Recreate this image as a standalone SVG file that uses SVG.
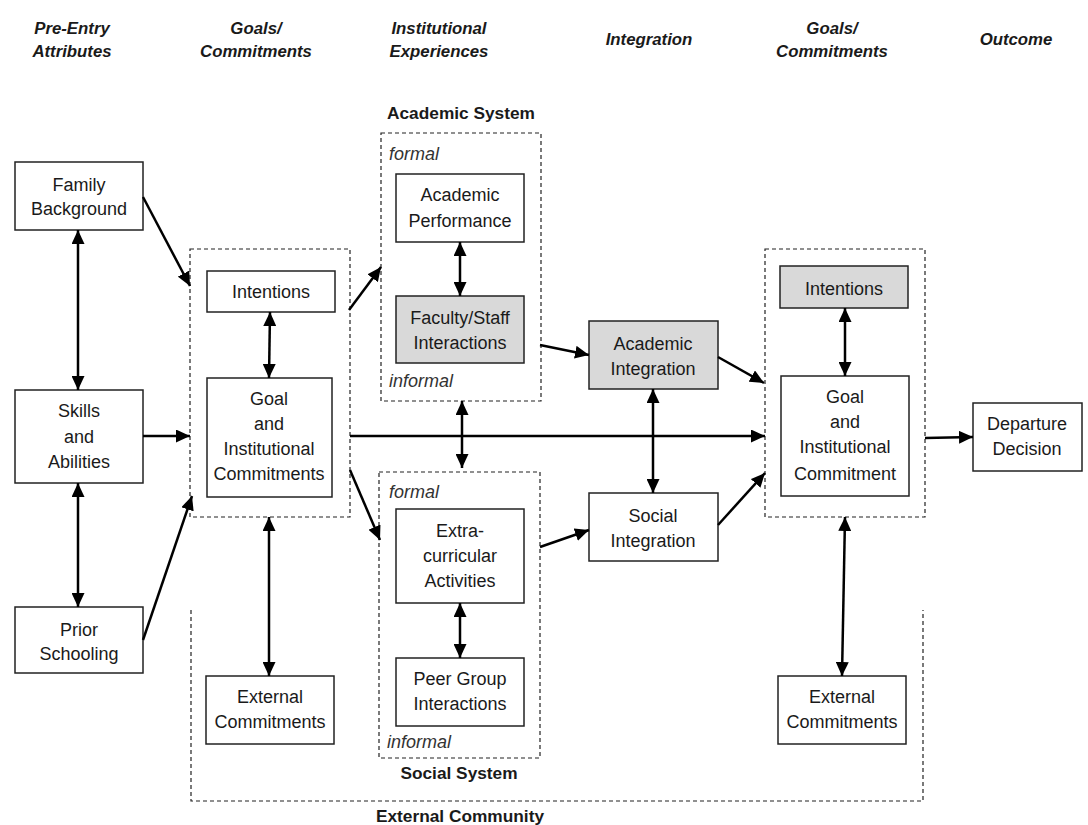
<svg xmlns="http://www.w3.org/2000/svg" width="1088" height="825" viewBox="0 0 1088 825">
<style>
text{font-family:"Liberation Sans",Arial,sans-serif;fill:#1a1a1a}
.h{font-size:16.8px;font-weight:bold;font-style:italic;text-anchor:middle}
.t{font-size:18px;text-anchor:middle}
.i{font-size:18px;font-style:italic;fill:#333}
.b{font-size:17.3px;font-weight:bold;text-anchor:middle}
.box{fill:#fff;stroke:#222;stroke-width:1.5}
.g{fill:#d9d9d9}
.d{fill:none;stroke:#222;stroke-width:1.2;stroke-dasharray:4 3}
.c line,.c path{stroke:#000;stroke-width:2.5;fill:none}
.e{marker-end:url(#ah)}
.s{marker-start:url(#ah);marker-end:url(#ah)}
</style>
<defs>
<marker id="ah" markerUnits="userSpaceOnUse" markerWidth="14" markerHeight="13" refX="14" refY="6.5" orient="auto-start-reverse">
<path d="M0,0 L14,6.5 L0,13 z" fill="#000"/>
</marker>
</defs>
<rect width="1088" height="825" fill="#fff"/>
<g id="headers">
<text class="h" x="72" y="34">Pre-Entry</text>
<text class="h" x="72" y="57">Attributes</text>
<text class="h" x="256" y="34">Goals/</text>
<text class="h" x="256" y="57">Commitments</text>
<text class="h" x="439" y="34">Institutional</text>
<text class="h" x="439" y="57">Experiences</text>
<text class="h" x="649" y="45">Integration</text>
<text class="h" x="832" y="34">Goals/</text>
<text class="h" x="832" y="57">Commitments</text>
<text class="h" x="1016" y="45">Outcome</text>
</g>
<g id="external-community">
<path class="d" d="M191,610 V801 H923 V610"/>
<text class="b" x="460" y="822">External Community</text>
</g>
<g id="goals-left">
<rect class="d" x="190" y="249" width="160" height="268"/>
</g>
<g id="academic-system">
<rect class="d" x="381" y="133" width="160" height="268"/>
<text class="b" x="461" y="119">Academic System</text>
<text class="i" x="389" y="160">formal</text>
<text class="i" x="389" y="387">informal</text>
</g>
<g id="social-system">
<rect class="d" x="379" y="472" width="161" height="286"/>
<text class="b" x="459" y="779">Social System</text>
<text class="i" x="389" y="498">formal</text>
<text class="i" x="387" y="748">informal</text>
</g>
<g id="goals-right">
<rect class="d" x="765" y="249" width="160" height="268"/>
</g>
<g id="family-background">
<rect class="box" x="15" y="162" width="128" height="68"/>
<text class="t" x="79" y="191">Family</text>
<text class="t" x="79" y="215">Background</text>
</g>
<g id="skills-abilities">
<rect class="box" x="15" y="390" width="128" height="93"/>
<text class="t" x="79" y="417">Skills</text>
<text class="t" x="79" y="443">and</text>
<text class="t" x="79" y="468">Abilities</text>
</g>
<g id="prior-schooling">
<rect class="box" x="15" y="607" width="128" height="66"/>
<text class="t" x="79" y="636">Prior</text>
<text class="t" x="79" y="660">Schooling</text>
</g>
<g id="intentions-left">
<rect class="box" x="207" y="271" width="128" height="41"/>
<text class="t" x="271" y="298">Intentions</text>
</g>
<g id="goal-commitments-left">
<rect class="box" x="207" y="378" width="125" height="119"/>
<text class="t" x="269" y="405">Goal</text>
<text class="t" x="269" y="430">and</text>
<text class="t" x="269" y="455">Institutional</text>
<text class="t" x="269" y="480">Commitments</text>
</g>
<g id="external-commitments-left">
<rect class="box" x="206" y="676" width="128" height="68"/>
<text class="t" x="270" y="703">External</text>
<text class="t" x="270" y="728">Commitments</text>
</g>
<g id="academic-performance">
<rect class="box" x="396" y="174" width="128" height="68"/>
<text class="t" x="460" y="201">Academic</text>
<text class="t" x="460" y="227">Performance</text>
</g>
<g id="faculty-staff">
<rect class="box g" x="396" y="296" width="128" height="67"/>
<text class="t" x="460" y="324">Faculty/Staff</text>
<text class="t" x="460" y="349">Interactions</text>
</g>
<g id="extracurricular">
<rect class="box" x="396" y="509" width="128" height="94"/>
<text class="t" x="460" y="537">Extra-</text>
<text class="t" x="460" y="562">curricular</text>
<text class="t" x="460" y="587">Activities</text>
</g>
<g id="peer-group">
<rect class="box" x="396" y="658" width="128" height="68"/>
<text class="t" x="460" y="685">Peer Group</text>
<text class="t" x="460" y="710">Interactions</text>
</g>
<g id="academic-integration">
<rect class="box g" x="589" y="321" width="129" height="68"/>
<text class="t" x="653" y="350">Academic</text>
<text class="t" x="653" y="375">Integration</text>
</g>
<g id="social-integration">
<rect class="box" x="589" y="493" width="129" height="68"/>
<text class="t" x="653" y="522">Social</text>
<text class="t" x="653" y="547">Integration</text>
</g>
<g id="intentions-right">
<rect class="box g" x="780" y="266" width="128" height="42"/>
<text class="t" x="844" y="295">Intentions</text>
</g>
<g id="goal-commitment-right">
<rect class="box" x="781" y="376" width="128" height="120"/>
<text class="t" x="845" y="403">Goal</text>
<text class="t" x="845" y="428">and</text>
<text class="t" x="845" y="453">Institutional</text>
<text class="t" x="845" y="480">Commitment</text>
</g>
<g id="external-commitments-right">
<rect class="box" x="778" y="676" width="128" height="68"/>
<text class="t" x="842" y="703">External</text>
<text class="t" x="842" y="728">Commitments</text>
</g>
<g id="departure-decision">
<rect class="box" x="973" y="403" width="109" height="68"/>
<text class="t" x="1027" y="430">Departure</text>
<text class="t" x="1027" y="455">Decision</text>
</g>
<g id="connectors" class="c">
<line class="s" x1="78" y1="230" x2="78" y2="390"/>
<line class="s" x1="78" y1="483" x2="78" y2="607"/>
<line class="e" x1="143" y1="197" x2="190" y2="286"/>
<line class="e" x1="143" y1="436" x2="190" y2="436"/>
<line class="e" x1="143" y1="640" x2="192" y2="496"/>
<line class="s" x1="270" y1="312" x2="269" y2="378"/>
<line class="s" x1="269" y1="517" x2="269" y2="676"/>
<line class="e" x1="349" y1="310" x2="381" y2="267"/>
<line class="e" x1="350" y1="470" x2="380" y2="540"/>
<line class="s" x1="460" y1="242" x2="460" y2="296"/>
<line class="s" x1="462" y1="401" x2="462" y2="468"/>
<line class="s" x1="460" y1="603" x2="460" y2="658"/>
<line class="e" x1="540" y1="345" x2="589" y2="355"/>
<line class="e" x1="540" y1="547" x2="589" y2="530"/>
<line class="e" x1="350" y1="436" x2="765" y2="436"/>
<line class="s" x1="653" y1="389" x2="653" y2="493"/>
<line class="e" x1="718" y1="357" x2="764" y2="383"/>
<line class="e" x1="718" y1="525" x2="765" y2="473"/>
<line class="s" x1="845" y1="308" x2="845" y2="376"/>
<line class="s" x1="845" y1="517" x2="842" y2="676"/>
<line class="e" x1="925" y1="438" x2="973" y2="437"/>
</g>
</svg>
